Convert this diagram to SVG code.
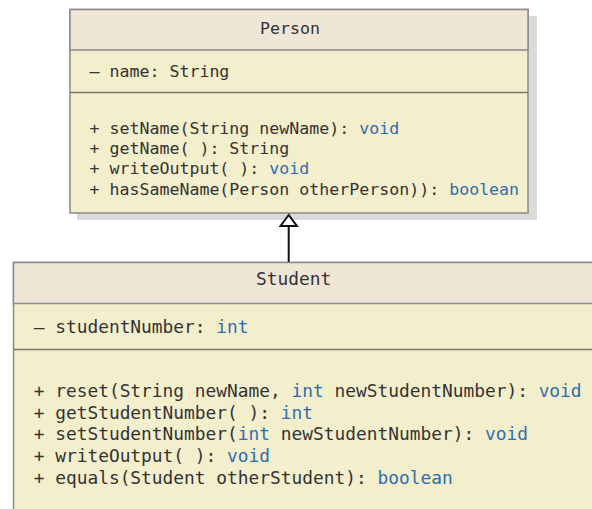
<svg xmlns="http://www.w3.org/2000/svg" width="592" height="509" viewBox="0 0 592 509">
<style>
.hdr{fill:#efe6d8;stroke:#8a8a8a;stroke-width:1.5}
.body{fill:#f3eecc;stroke:#8a8a8a;stroke-width:1.5}
.div{stroke:#7a7a72;stroke-width:1.5}
.shadow{fill:#dadada}
.t{font-family:"DejaVu Sans Mono","Liberation Mono",monospace;fill:#333333}
.p{font-size:16.6px}
.s{font-size:17.85px}
.k{fill:#2f6db3}
</style>
<rect width="592" height="509" fill="#ffffff"/>
<g id="person">
<rect class="shadow" x="77" y="16" width="460" height="204"/>
<rect class="body" x="70" y="9.5" width="458" height="203.5"/>
<rect class="hdr" x="70" y="9.5" width="458" height="40.5"/>
<line class="div" x1="70" y1="92.5" x2="528" y2="92.5"/>
<text class="t p" x="260" y="34">Person</text>
<text class="t p" x="89.5" y="77">– name: String</text>
<text class="t p" x="89.5" y="134">+ setName(String newName): <tspan class="k">void</tspan></text>
<text class="t p" x="89.5" y="154">+ getName( ): String</text>
<text class="t p" x="89.5" y="174">+ writeOutput( ): <tspan class="k">void</tspan></text>
<text class="t p" x="89.5" y="194.5">+ hasSameName(Person otherPerson)): <tspan class="k">boolean</tspan></text>
</g>
<g id="student">
<rect class="body" x="13.5" y="262.5" width="600" height="270"/>
<rect class="hdr" x="13.5" y="262.5" width="600" height="41"/>
<line class="div" x1="13.5" y1="349.5" x2="600" y2="349.5"/>
<text class="t s" x="256" y="285">Student</text>
<text class="t s" x="33.7" y="333">– studentNumber: <tspan class="k">int</tspan></text>
<text class="t s" x="33.7" y="397">+ reset(String newName, <tspan class="k">int</tspan> newStudentNumber): <tspan class="k">void</tspan></text>
<text class="t s" x="33.7" y="418.5">+ getStudentNumber( ): <tspan class="k">int</tspan></text>
<text class="t s" x="33.7" y="440">+ setStudentNumber(<tspan class="k">int</tspan> newStudentNumber): <tspan class="k">void</tspan></text>
<text class="t s" x="33.7" y="462">+ writeOutput( ): <tspan class="k">void</tspan></text>
<text class="t s" x="33.7" y="484">+ equals(Student otherStudent): <tspan class="k">boolean</tspan></text>
</g>
<g id="connectors">
<line x1="288.7" y1="226" x2="288.7" y2="262" stroke="#111111" stroke-width="2"/>
<polygon points="288.7,215 280.5,226 296.9,226" fill="#ffffff" stroke="#111111" stroke-width="2" stroke-linejoin="miter"/>
</g>
</svg>
